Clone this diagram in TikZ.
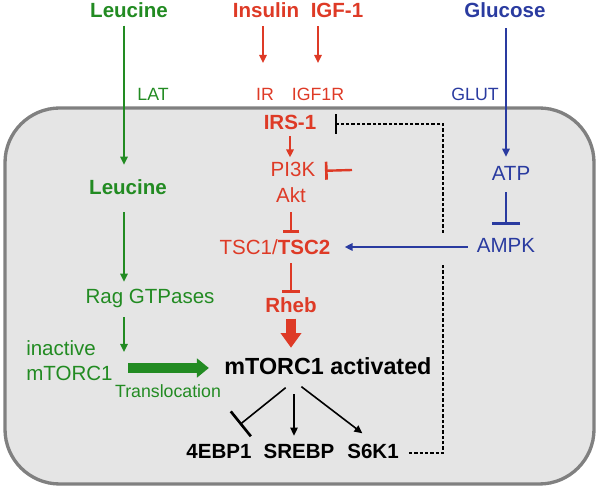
\documentclass[tikz,border=0pt]{standalone}
\usepackage{fontspec}
\setmainfont{Liberation Sans}
\usetikzlibrary{arrows.meta}
\definecolor{lgreen}{RGB}{34,139,34}
\definecolor{lred}{RGB}{222,58,38}
\definecolor{lblue}{RGB}{42,59,160}
\definecolor{cellfill}{RGB}{229,229,229}
\definecolor{cellline}{RGB}{128,128,128}
\begin{document}
\begin{tikzpicture}[x=0.75pt,y=-0.75pt,
  lbl/.style={inner sep=1.5pt, text height=11pt, text depth=3pt, font=\fontsize{15.4}{17}\selectfont},
  blbl/.style={lbl, font=\fontsize{15.4}{17}\selectfont\bfseries},
  slbl/.style={inner sep=1.5pt, text height=9.5pt, text depth=2.6pt, font=\fontsize{13.3}{15}\selectfont},
  act/.style={line width=1.5pt, -{Triangle[length=6pt,width=5.5pt]}},
  inh/.style={line width=1.8pt, -{Bar[width=#1,line width=2pt]}},
  inh/.default=13pt,
  fat/.style={line width=7pt, -{Triangle[length=9pt,width=14pt]}},
  fb/.style={line width=0.9pt, dash pattern=on 2.6pt off 1.4pt}
]
\useasboundingbox (0,0) rectangle (600,491);
% cell
\draw[fill=cellfill, draw=cellline, line width=2.5pt, rounded corners=41pt] (5,108) rectangle (594,484);

% top inputs
\node[blbl, lgreen] (lt) at (129,12) {Leucine};
\node[blbl, lred] (ins) at (266,12) {Insulin};
\node[blbl, lred] (igf) at (337,12) {IGF-1};
\node[blbl, lblue] (glu) at (505,12) {Glucose};

% receptor labels
\node[slbl, lgreen] (lat) at (153,96) {LAT};
\node[slbl, lred] (ir) at (265,96) {IR};
\node[slbl, lred] (igfr) at (318,96) {IGF1R};
\node[slbl, lblue] (glut) at (475,96) {GLUT};

% inside nodes
\node[blbl, lred] (irs) at (290,124) {IRS-1};
\node[lbl, lred] (pi3k) at (293,171) {PI3K};
\node[lbl, lred] (akt) at (291,197) {Akt};
\node[lbl, lred] (tsc) at (275,249) {TSC1/\textbf{TSC2}};
\node[blbl, lred] (rheb) at (291,307) {Rheb};
\node[lbl, lblue] (atp) at (511,175) {ATP};
\node[lbl, lblue] (ampk) at (506,247) {AMPK};
\node[blbl, lgreen] (li) at (128,189) {Leucine};
\node[lbl, lgreen] (rag) at (150,298) {Rag GTPases};
\node[inner sep=1.5pt, anchor=west, align=left, lgreen, font=\fontsize{15.4}{18.75}\selectfont] (inact) at (24,361) {inactive\\mTORC1};
\node[slbl, lgreen] (trans) at (168,393) {Translocation};
\node[inner sep=1.5pt, text height=12.6pt, text depth=3.4pt, font=\fontsize{17.5}{20}\selectfont\bfseries] (mt) at (328,368) {mTORC1 activated};
\node[blbl] (ebp) at (219,453) {4EBP1};
\node[blbl] (srebp) at (299,453) {SREBP};
\node[blbl] (s6k) at (373,453) {S6K1};

% free-end coordinates
\coordinate (gx) at (124,0);
\coordinate (gtip) at (124,352);
\coordinate (irtip) at (263,63);
\coordinate (igftip) at (318,63);
\coordinate (pinh) at (352,170);
\coordinate (mtout) at (294,381);
\coordinate (fbtop) at (443,233);
\coordinate (fbbot) at (443,265);

% green pathway
\draw[act, lgreen, shorten <=1.5pt, shorten >=9.5pt] (lt.south -| gx) -- (li.north -| gx);
\draw[act, lgreen, shorten <=8.8pt, shorten >=3.5pt] (li.south -| gx) -- (rag.north -| gx);
\draw[act, lgreen, shorten <=5.8pt] (rag.south -| gtip) -- (gtip);
\draw[fat, lgreen, shorten <=10pt, shorten >=10pt] (inact.east |- mt.west) -- (mt.west);

% red pathway
\draw[act, lred, shorten <=2pt] (ins.south -| irtip) -- (irtip);
\draw[act, lred, shorten <=2pt] (igf.south -| igftip) -- (igftip);
\draw[act, lred, shorten <=0.5pt, shorten >=1.5pt] (irs.south) -- (irs.south |- pi3k.north);
\draw[inh=13.5pt, lred, shorten >=5.6pt] (pinh) -- (pi3k.east);
\draw[inh=12.5pt, lred, shorten <=2.8pt, shorten >=3.5pt] (akt.south) -- (akt.south |- tsc.north);
\draw[inh=13pt, lred, shorten <=2pt, shorten >=2pt] (rheb.north |- tsc.south) -- (rheb.north);
\draw[fat, lred, line width=7.5pt, -{Triangle[length=11pt,width=15pt]}, shorten >=5.5pt] (rheb.south) -- (rheb.south |- mt.north);

% blue pathway
\draw[act, lblue, shorten <=3.5pt, shorten >=5pt] (glu.south -| ampk) -- (ampk |- atp.north);
\draw[inh=21pt, lblue, shorten <=4.3pt, shorten >=8pt] (ampk.north |- atp.south) -- (ampk.north);
\draw[act, lblue, shorten <=5pt, shorten >=9pt] (ampk.west) -- (ampk.west -| tsc.east);

% mTORC1 outputs
\draw[inh=24pt, line width=1.2pt, shorten <=8pt, shorten >=20pt] (mtout) -- (ebp.north);
\draw[act, line width=1.2pt, shorten <=10pt, shorten >=4.3pt] (mtout) -- (mtout |- srebp.north);
\draw[act, line width=1.2pt, shorten <=7pt, shorten >=10pt] (mtout) -- (s6k.north);

% feedback
\draw[fb, shorten <=6pt] (s6k.east) -| (fbbot);
\draw[fb, -{Bar[width=15pt,line width=2pt]}, shorten >=12pt] (fbtop) |- (irs.east);
\end{tikzpicture}
\end{document}
